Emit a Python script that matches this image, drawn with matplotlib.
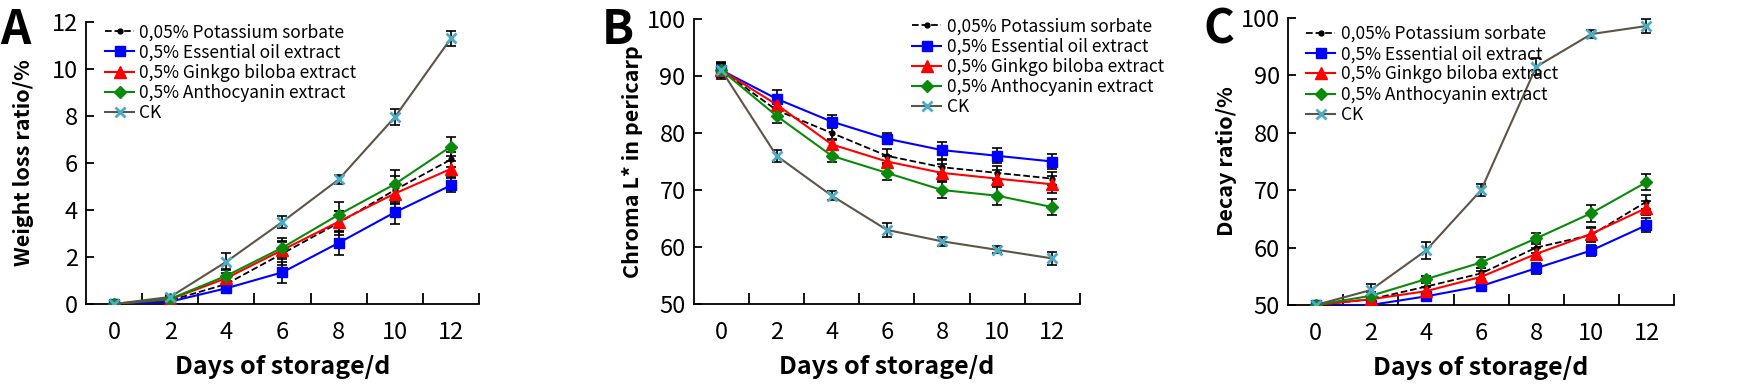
import matplotlib
matplotlib.use('Agg')
import matplotlib.pyplot as plt
from matplotlib.ticker import FixedLocator

plt.rcParams['font.family'] = ['Noto Sans CJK KR', 'DejaVu Sans']

days = [0, 2, 4, 6, 8, 10, 12]
labels = ['0,05% Potassium sorbate', '0,5% Essential oil extract',
          '0,5% Ginkgo biloba extract', '0,5% Anthocyanin extract', 'CK']

# panel A - weight loss ratio (%)
wl_ps = [0, 0.15, 0.85, 2.15, 3.45, 4.85, 6.15]
wl_eo = [0, 0.1, 0.67, 1.35, 2.6, 3.9, 5.05]
wl_gb = [0, 0.2, 1.1, 2.3, 3.5, 4.7, 5.75]
wl_an = [0, 0.22, 1.2, 2.4, 3.8, 5.1, 6.7]
wl_ck = [0, 0.3, 1.8, 3.5, 5.3, 7.95, 11.3]
wl_ps_err = [0.05, 0.1, 0.3, 0.5, 0.5, 0.6, 0.3]
wl_eo_err = [0.05, 0.1, 0.1, 0.45, 0.5, 0.5, 0.3]
wl_gb_err = [0.05, 0.1, 0.2, 0.4, 0.45, 0.4, 0.35]
wl_an_err = [0.05, 0.1, 0.3, 0.4, 0.55, 0.6, 0.4]
wl_ck_err = [0.05, 0.1, 0.35, 0.25, 0.2, 0.35, 0.3]

# panel B - chroma L* in pericarp
ch_ps = [91, 84, 80, 76, 74, 73, 72]
ch_eo = [91, 86, 82, 79, 77, 76, 75]
ch_gb = [91, 85, 78, 75, 73, 72, 71]
ch_an = [91, 83, 76, 73, 70, 69, 67]
ch_ck = [91, 76, 69, 63, 61, 59.5, 58]
ch_ps_err = [1.5, 1.2, 1.2, 1.2, 1.2, 1.2, 1.2]
ch_eo_err = [1.2, 1.5, 1.2, 1.0, 1.5, 1.3, 1.3]
ch_gb_err = [1.2, 1.2, 1.0, 1.0, 1.5, 1.5, 1.5]
ch_an_err = [1.2, 1.3, 1.0, 1.3, 1.4, 1.7, 1.4]
ch_ck_err = [1.0, 1.0, 0.8, 1.2, 0.8, 0.6, 1.2]

# panel C - decay ratio (%)
dr_ps = [50, 51, 53.2, 55.5, 60, 62.2, 68]
dr_eo = [50, 50, 51.5, 53.3, 56.4, 59.5, 63.9]
dr_gb = [50, 51, 52.4, 54.9, 58.9, 62.4, 66.9]
dr_an = [50, 51.6, 54.5, 57.4, 61.6, 66.0, 71.4]
dr_ck = [50, 52.6, 59.5, 70.0, 91.5, 97.2, 98.6]
dr_ps_err = [0.3, 0.6, 1.0, 1.0, 1.0, 1.2, 1.2]
dr_eo_err = [0.3, 0.5, 0.6, 0.8, 1.0, 1.0, 1.2]
dr_gb_err = [0.3, 0.6, 0.8, 1.0, 1.0, 1.2, 1.2]
dr_an_err = [0.3, 0.6, 0.6, 1.0, 0.9, 1.5, 1.4]
dr_ck_err = [0.3, 1.0, 1.5, 1.0, 1.5, 0.7, 1.2]

styles = [
    dict(color='black', ls='--', marker='o', ms=3.5, mfc='black', mec='black', lw=1.3),
    dict(color='#0000ff', ls='-', marker='s', ms=7.5, mfc='#0000ff', mec='#0000ff', lw=1.5),
    dict(color='#ff0000', ls='-', marker='^', ms=8, mfc='#ff0000', mec='#ff0000', lw=1.5),
    dict(color='#0a8a0a', ls='-', marker='D', ms=6, mfc='#0a8a0a', mec='#0a8a0a', lw=1.5),
    dict(color='#5e5446', ls='-', marker='x', ms=7, mfc='#4bacc6', mec='#4bacc6', mew=2, lw=1.5),
]

fig = plt.figure(figsize=(17.59, 3.91), dpi=100)


def panel(rect, series, errs, ylim, yticks, ylabel, letter, letter_x, leg_anchor):
    ax = fig.add_axes(rect)
    pos = list(range(len(days)))
    for y, e, st, lab in zip(series, errs, styles, labels):
        ax.errorbar(pos, y, yerr=e, fmt='none', ecolor='black', elinewidth=1.2,
                    capsize=3.5, capthick=1.2, zorder=2)
        ax.plot(pos, y, label=lab, zorder=3, **st)
    ax.set_xlim(-0.5, 6.5)
    ax.set_ylim(*ylim)
    ax.set_yticks(yticks)
    ax.set_xticks(pos)
    ax.set_xticklabels([str(d) for d in days])
    ax.xaxis.set_minor_locator(FixedLocator([p + 0.5 for p in pos]))
    ax.tick_params(axis='x', which='major', length=0, labelsize=17, pad=12)
    ax.tick_params(axis='x', which='minor', direction='in', length=8, width=1.3)
    ax.tick_params(axis='y', direction='in', length=6, width=1.3, labelsize=17, pad=6)
    for s in ['top', 'right']:
        ax.spines[s].set_visible(False)
    for s in ['left', 'bottom']:
        ax.spines[s].set_linewidth(1.3)
    ax.set_xlabel('Days of storage/d', fontsize=18, fontweight='bold', labelpad=8)
    ax.set_ylabel(ylabel, fontsize=15.5, fontweight='bold')
    ax.yaxis.set_label_coords(-0.132, 0.5)
    ax.legend(loc='upper left', bbox_to_anchor=leg_anchor, frameon=False, fontsize=12.5,
              handlelength=1.7, handletextpad=0.3, labelspacing=0.13, borderaxespad=0)
    fig.text(letter_x, 0.985, letter, fontsize=34, fontweight='bold', va='top', ha='left')
    return ax


panel([0.0489, 0.2225, 0.2234, 0.7212],
      [wl_ps, wl_eo, wl_gb, wl_an, wl_ck],
      [wl_ps_err, wl_eo_err, wl_gb_err, wl_an_err, wl_ck_err],
      (0, 12), range(0, 13, 2), 'Weight loss ratio/%', 'A', 0.0, (0.03, 1.02))

panel([0.3945, 0.2225, 0.2194, 0.7289],
      [ch_ps, ch_eo, ch_gb, ch_an, ch_ck],
      [ch_ps_err, ch_eo_err, ch_gb_err, ch_an_err, ch_ck_err],
      (50, 100), range(50, 101, 10), 'Chroma L* in pericarp', 'B', 0.342, (0.547, 1.03))

panel([0.7323, 0.22, 0.2194, 0.734],
      [dr_ps, dr_eo, dr_gb, dr_an, dr_ck],
      [dr_ps_err, dr_eo_err, dr_gb_err, dr_an_err, dr_ck_err],
      (50, 100), range(50, 101, 10), 'Decay ratio/%', 'C', 0.684, (0.028, 1.0))

fig.savefig('out.png', dpi=100)
